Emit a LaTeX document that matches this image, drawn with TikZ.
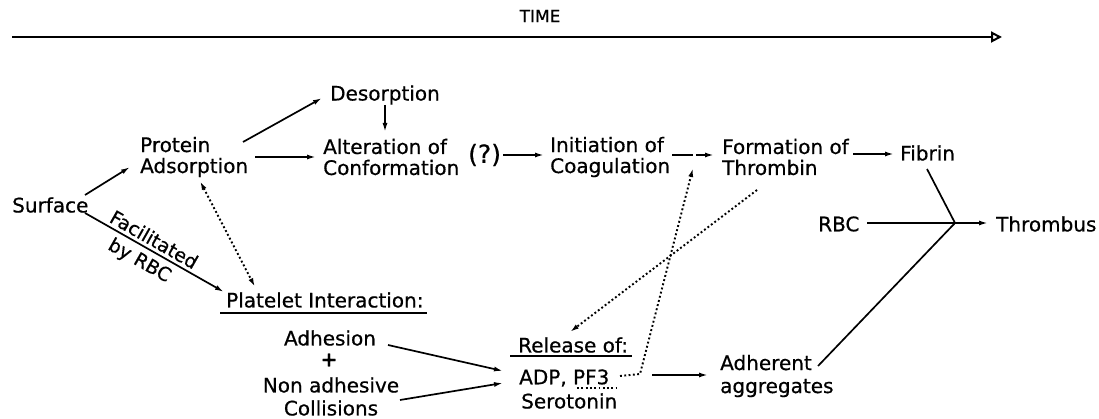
\documentclass[tikz,border=0pt]{standalone}
\usepackage{fontspec}
\setmainfont{DejaVu Sans}[FakeBold=0.6]
\usetikzlibrary{arrows.meta,calc}
\begin{document}
\begin{tikzpicture}[x=1pt,y=-1pt,
  lbl/.style={inner sep=0pt, font=\fontsize{20}{21}\selectfont, align=left, anchor=west},
  clbl/.style={inner sep=0pt, font=\fontsize{20}{21}\selectfont, anchor=center},
  conn/.style={line width=1.7pt},
  arr/.style={conn, -{Latex[length=9pt,width=5pt]}},
  dots/.style={line width=1.9pt, dash pattern=on 1.9pt off 2.4pt},
  dotarr/.style={dots, -{Latex[length=9pt,width=5pt]}},
  dotdbl/.style={dots, {Latex[length=9pt,width=5pt]}-{Latex[length=9pt,width=5pt]}},
]
\fill[white] (0,0) rectangle (1099,419);
\useasboundingbox (0,0) rectangle (1099,419);

% time axis
\node[inner sep=0pt, font=\fontsize{17}{17}\selectfont] (time) at (540,16) {TIME};
\coordinate (ts) at (12,37);
\coordinate (te) at (1002,37);
\draw[line width=2pt, -{Triangle[open,length=11pt,width=11pt,line width=2pt]}] (ts) -- (te);

% nodes
\node[lbl] (surf) at (12,205) {Surface};
\node[lbl] (prot) at (140,157) {Protein\\Adsorption};
\node[lbl] (deso) at (330,95) {Desorption};
\node[lbl] (alt) at (323,157) {Alteration of\\Conformation};
\node[lbl, font=\fontsize{25}{25}\selectfont] (q) at (468,155) {(?)};
\node[lbl] (init) at (550,157) {Initiation of\\Coagulation};
\node[lbl] (form) at (722,157) {Formation of\\Thrombin};
\node[lbl] (fib) at (900,153) {Fibrin};
\node[lbl] (rbc) at (818,224) {RBC};
\node[lbl] (thr) at (996,224) {Thrombus};
\coordinate (j) at (955,223);
\node[lbl] (plat) at (226,300) {Platelet Interaction:};
\node[clbl] (adh) at (330,338) {Adhesion};
\node[clbl] (plus) at (329,360) {\textbf{+}};
\node[clbl] (nonad) at (331,385) {Non adhesive};
\node[clbl] (coll) at (331,408) {Collisions};
\node[lbl] (rel) at (518,345) {Release of:};
\node[lbl] (adp) at (519,378) {ADP, PF3};
\node[lbl] (sero) at (521,401) {Serotonin};
\node[lbl, font=\fontsize{20}{23}\selectfont] (adhr) at (720,376) {Adherent\\aggregates};

% underlines
\draw[line width=1.6pt] ([shift={(-6,13)}]plat.west) -- ([shift={(201,13)}]plat.west);
\draw[line width=1.6pt] ([shift={(-8,11)}]rel.west) -- ([shift={(114,11)}]rel.west);
\draw[dots, line width=1.5pt] ([shift={(58,10)}]adp.west) -- ([shift={(98,10)}]adp.west);

% solid connectors
\draw[arr] ([shift={(73,-10)}]surf.west) -- ([shift={(-10,10)}]prot.west);
\draw[arr] ([shift={(73,8)}]surf.west) --
  node[pos=0.458, sloped, anchor=south, inner sep=3pt, font=\fontsize{19}{19}\selectfont] (fac) {Facilitated}
  node[pos=0.444, sloped, anchor=north, inner sep=5pt, font=\fontsize{19}{19}\selectfont] (byrbc) {by RBC}
  ([shift={(-2,-8)}]plat.west);
\draw[arr] ([shift={(103,-15)}]prot.west) -- ([shift={(-8,3)}]deso.west);
\draw[arr] ([shift={(115,0)}]prot.west) -- ([shift={(-7,0)}]alt.west);
\draw[arr] ([shift={(55,10)}]deso.west) -- ([shift={(62,-25)}]alt.west);
\draw[arr] ([shift={(35,0)}]q.west) -- ([shift={(-6,-2)}]init.west);
\draw[arr, dash pattern=on 21pt off 3pt on 40pt] ([shift={(122,-2)}]init.west) -- ([shift={(-8,-2)}]form.west);
\draw[arr] ([shift={(131,-3)}]form.west) -- ([shift={(-6,1)}]fib.west);
\draw[conn] ([shift={(27,16)}]fib.west) -- (j);
\draw[conn] ([shift={(49,-1)}]rbc.west) -- (j);
\draw[conn] ([shift={(98,-10)}]adhr.west) -- (j);
\draw[arr] (j) -- ([shift={(-8,-1)}]thr.west);
\draw[arr] ([shift={(58,7)}]adh.center) -- ([shift={(-16,-7)}]adp.west);
\draw[arr] ([shift={(69,-8)}]coll.center) -- ([shift={(-16,5)}]adp.west);
\draw[arr] ([shift={(133,-3)}]adp.west) -- ([shift={(-12,-1)}]adhr.west);

% dotted connectors
\draw[dotdbl] ([shift={(60,24)}]prot.west) -- ([shift={(29,-13)}]plat.west);
\draw[dotarr] ([shift={(101,-2)}]adp.west) -- ([shift={(121,-4)}]adp.west) -- ([shift={(-29,11)}]form.west);
\draw[dotarr] ([shift={(35,33)}]form.west) -- ([shift={(52,-13)}]rel.west);

\end{tikzpicture}
\end{document}
